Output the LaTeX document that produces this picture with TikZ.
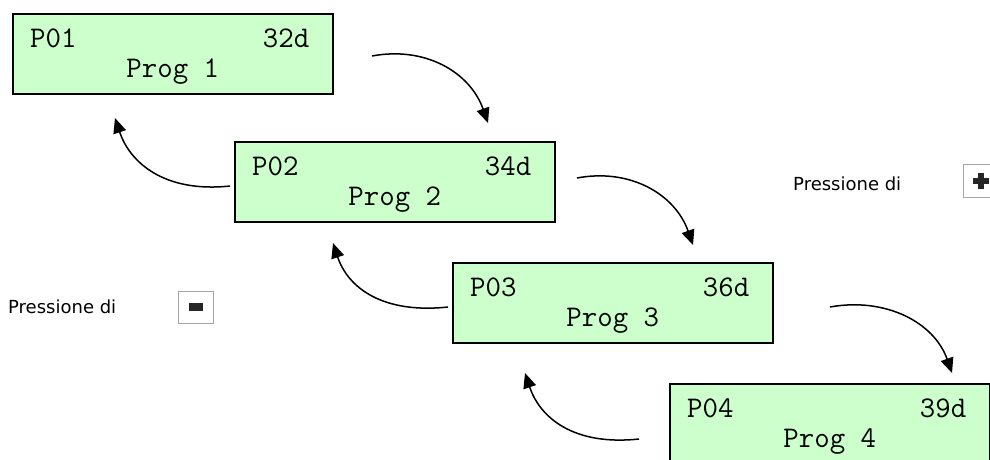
\documentclass[tikz,border=0pt]{standalone}
\usepackage{fontspec}
\newfontfamily\labelfont{DejaVu Sans}
\usetikzlibrary{arrows.meta,calc}
\definecolor{lcdgreen}{HTML}{CCFFCC}
\begin{document}
\begin{tikzpicture}[x=1pt,y=-1pt,
  lcd/.style={draw=black, line width=1.5pt, fill=lcdgreen, minimum width=320pt,
    minimum height=80pt, anchor=north west, inner sep=0pt},
  lcdtext/.style={font=\fontsize{30}{30}\ttfamily, inner sep=0pt},
  flow/.style={line width=1.5pt, -{Triangle[length=15pt,width=13pt]}},
  key/.style={draw=gray!70, line width=0.8pt, fill=white, minimum width=35pt,
    minimum height=32pt, anchor=north west, inner sep=0pt},
  caption/.style={font=\labelfont\fontsize{18}{18}\selectfont, inner sep=0pt, anchor=west}]

\path[use as bounding box] (0,0) rectangle (990,459);
\clip (0,0) rectangle (990,459);

% LCD screens, one per programme
\foreach \n/\x/\y/\d in {1/12/13/32, 2/234/141/34, 3/452/262/36, 4/669/383/39}{
  \node[lcd] (b\n) at (\x,\y) {};
  \node[lcdtext, anchor=base west, xshift=18pt, yshift=-34pt] at (b\n.north west) {P0\n};
  \node[lcdtext, anchor=base east, xshift=-24pt, yshift=-34pt] at (b\n.north east) {\d d};
  \node[lcdtext, anchor=base, yshift=-64pt] at (b\n.north) {Prog \n};
}

% forward steps (+ key)
\coordinate (f1s) at (372,56);  \coordinate (f1e) at (488,123);
\coordinate (f2s) at (577,178); \coordinate (f2e) at (693,245);
\coordinate (f3s) at (830,307); \coordinate (f3e) at (952,373);
\draw[flow] (f1s) .. controls (425,46) and (470,72) .. (f1e);
\draw[flow] (f2s) .. controls (630,168) and (675,194) .. (f2e);
\draw[flow] (f3s) .. controls (885,297) and (934,322) .. (f3e);

% backward steps (- key)
\coordinate (r1s) at (230,186); \coordinate (r1e) at (115,118);
\coordinate (r2s) at (448,307); \coordinate (r2e) at (333,243);
\coordinate (r3s) at (639,439); \coordinate (r3e) at (525,373);
\draw[flow] (r1s) .. controls (165,193) and (130,163) .. (r1e);
\draw[flow] (r2s) .. controls (383,314) and (348,288) .. (r2e);
\draw[flow] (r3s) .. controls (574,446) and (540,418) .. (r3e);

% keys
\node[caption] (cminus) at (8,307) {Pressione di};
\node[key] (kminus) at (178,291) {};
\fill[black!85] ($(kminus.center)+(-7,-4)$) rectangle ($(kminus.center)+(7,4)$);

\node[caption] (cplus) at (793,184) {Pressione di};
\node[key, minimum height=33pt] (kplus) at (963,164) {};
\fill[black!85] ($(kplus.center)+(-8,-3)$) rectangle ($(kplus.center)+(8,3)$);
\fill[black!85] ($(kplus.center)+(-3,-8)$) rectangle ($(kplus.center)+(3,8)$);
\end{tikzpicture}
\end{document}
